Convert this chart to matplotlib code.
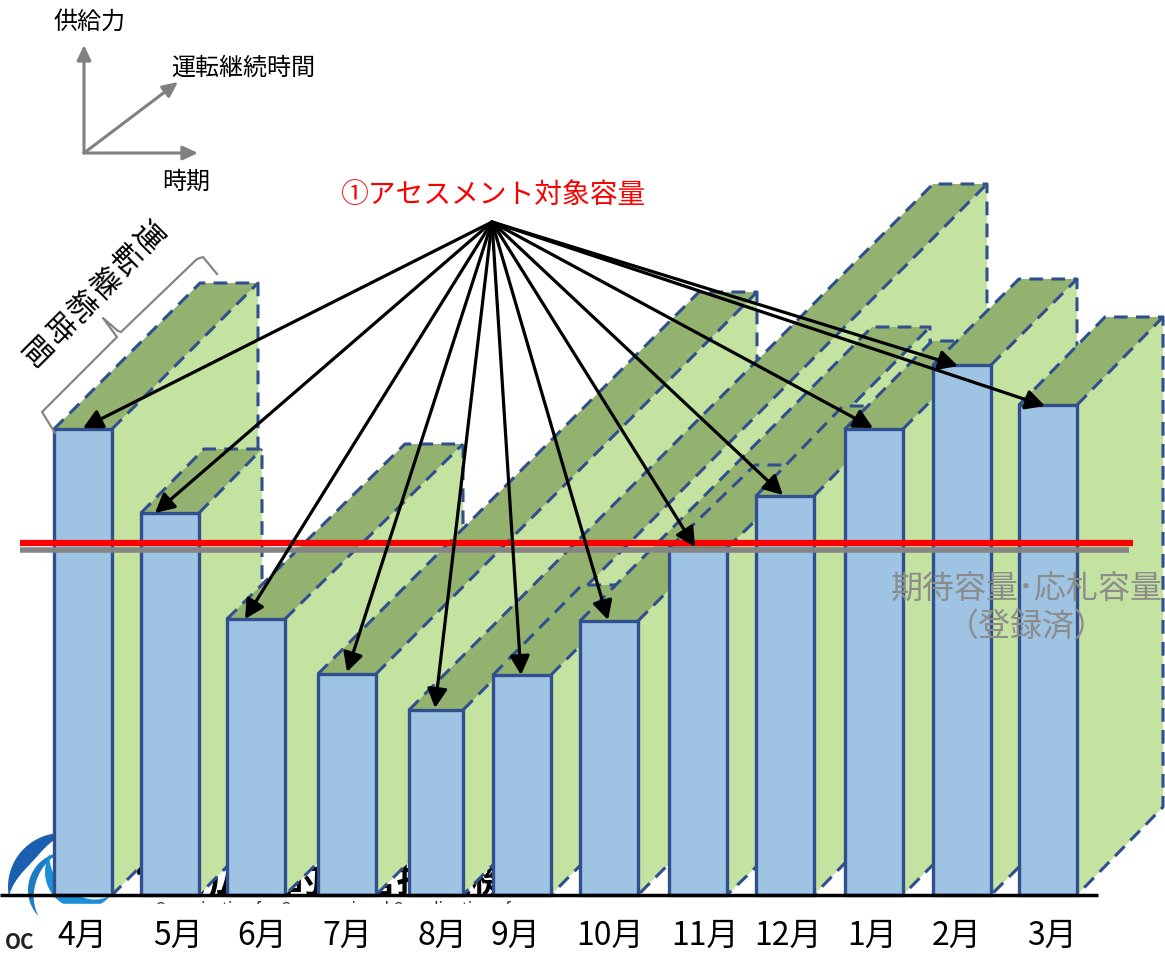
import matplotlib
matplotlib.use("Agg")
import matplotlib.pyplot as plt
import numpy as np
from matplotlib.patches import Polygon, Rectangle

plt.rcParams['font.family'] = ['Noto Sans CJK JP', 'DejaVu Sans']

months = ["4月", "5月", "6月", "7月", "8月", "9月", "10月", "11月", "12月", "1月", "2月", "3月"]
bar_left = [54, 141, 227, 318, 409, 493, 580, 669, 756, 845, 933, 1019]
bar_width = [58, 58, 58, 58, 54, 58, 58, 58, 58, 58, 58, 58]
capacity = [466, 382, 276, 221, 185, 220, 274, 347, 399, 466, 530, 490]
duration_x = [146, 63, 178, 381, 524, 89, 292, 86, 87, 87, 86, 86]
duration_y = [146, 64, 175, 382, 526, 90, 294, 83, 90, 88, 86, 88]
label_x = [82, 178, 262, 347, 442, 516, 610, 705, 788, 872, 957, 1052]
arrow_tip_x = [83, 155, 245, 347, 435, 521, 608, 695, 783, 873, 958, 1045]
arrow_tip_y = [467, 382, 276, 223, 187, 220, 275, 348, 400, 467, 529, 489]

BLUE = "#9fc3e2"
EDGE = "#2f4f8f"
LIGHT = "#c4e2a0"
DARK = "#93b26f"
DASH = (0, (4.5, 2.7))
BASE = 895


def Y(p):
    # picture row -> height above the baseline
    return BASE - p


def crescent(ax, cx, cy, r, a0, a1, t, color):
    # arc in picture pixels, thickest in the middle
    a = np.radians(np.linspace(a0, a1, 60))
    w = t * np.sin(np.linspace(0, np.pi, 60))
    xs = np.r_[cx + r * np.cos(a), (cx + (r - w) * np.cos(a))[::-1]]
    ys = np.r_[Y(cy) + r * np.sin(a), (Y(cy) + (r - w) * np.sin(a))[::-1]]
    ax.add_patch(Polygon(np.c_[xs, ys], closed=True, fc=color, ec="none", zorder=1))


fig = plt.figure(figsize=(11.65, 9.56), dpi=100)
ax = fig.add_axes([0, 0, 1, 1])
ax.set_xlim(0, 1165)
ax.set_ylim(-61, 895)
ax.axis("off")

# logo left behind the chart
crescent(ax, 62, 887, 54, 85, 190, 15, "#1a5fb0")
crescent(ax, 66, 890, 38, 95, 225, 7, "#1d7cc4")
crescent(ax, 82, 872, 37, 150, 320, 15, "#1b8fd8")
ax.text(135, Y(881), "電力広域的運営推進機関", fontsize=27, fontweight="bold", ha="left", va="center", color="black", zorder=1)
ax.text(155, Y(910), "Organization for Cross-regional Coordination of", fontsize=11.5, ha="left", va="center", color="#222222", zorder=1)
ax.add_patch(Rectangle((38, -61), 1127, 61 - 9, color="white", zorder=2))
ax.text(5, Y(949), "OC", fontsize=15, fontweight="bold", ha="left", va="baseline", color="#222222", zorder=2)

z = 3
for i in range(len(months)):
    l = bar_left[i]
    r = l + bar_width[i]
    h = capacity[i]
    dx = duration_x[i]
    dy = duration_y[i]
    ax.add_patch(Polygon([(r, h), (r + dx, h + dy), (r + dx, dy), (r, 0)], closed=True, fc=LIGHT, ec="none", zorder=z))
    ax.add_patch(Polygon([(l, h), (r, h), (r + dx, h + dy), (l + dx, h + dy)], closed=True, fc=DARK, ec="none", zorder=z))
    ax.plot([l, l + dx, r + dx, r + dx, r, r], [h, h + dy, h + dy, dy, 0, h], color=EDGE, lw=2.2, ls=DASH, zorder=z)
    ax.plot([r, r + dx], [h, h + dy], color=EDGE, lw=2.2, ls=DASH, zorder=z)
    ax.bar(l, h, width=bar_width[i], align="edge", color=BLUE, edgecolor=EDGE, lw=2.4, zorder=z)
    z += 1

ax.plot([20, 1133], [Y(543), Y(543)], color="#fb0000", lw=4.5, solid_capstyle="butt", zorder=30)
ax.plot([20, 1129], [Y(550), Y(550)], color="#858585", lw=4, solid_capstyle="butt", zorder=29)
ax.plot([0, 1098], [0, 0], color="black", lw=2.5, solid_capstyle="butt", zorder=30)

for i in range(len(months)):
    ax.annotate("", xy=(arrow_tip_x[i], arrow_tip_y[i]), xytext=(492, Y(222)),
                arrowprops=dict(arrowstyle="-|>,head_length=1.15,head_width=0.6", color="black", lw=2.3, shrinkA=0, shrinkB=0), zorder=31)
    ax.text(label_x[i], Y(936), months[i], fontsize=23, ha="center", va="center", color="black", zorder=31)

ax.text(493, Y(195), "①アセスメント対象容量", fontsize=20, color="#fb0000", ha="center", va="center", zorder=31)
ax.text(1027, Y(589), "期待容量･応札容量", fontsize=23, color="#8c8c8c", ha="center", va="center", zorder=31)
ax.text(1027, Y(627), "（登録済）", fontsize=23, color="#8c8c8c", ha="center", va="center", zorder=31)

# axes key
for x1, y1 in [(84, 45), (198, 153), (178, 82)]:
    ax.annotate("", xy=(x1, Y(y1)), xytext=(84, Y(153)),
                arrowprops=dict(arrowstyle="-|>,head_length=0.9,head_width=0.42", color="#808080", lw=2.2, shrinkA=0, shrinkB=0))
ax.text(90, Y(22), "供給力", fontsize=17.3, ha="center", va="center")
ax.text(243, Y(68), "運転継続時間", fontsize=17.3, ha="center", va="center")
ax.text(186, Y(182), "時期", fontsize=17.3, ha="center", va="center")

# bracket and slanted label
ax.plot([55, 42, 117, 103, 118, 121, 197, 203, 217], [Y(433), Y(412), Y(337), Y(318), Y(331), Y(332), Y(259), Y(257), Y(274)], color="#858585", lw=1.6, zorder=31)
for ch, cx, cy in zip("運転継続時間", [147, 124, 102, 79, 57, 34], [238, 261, 284, 307, 331, 354]):
    ax.text(cx, Y(cy), ch, fontsize=21.5, rotation=-45, ha="center", va="center", rotation_mode="anchor")

fig.savefig("out.png", dpi=100)
